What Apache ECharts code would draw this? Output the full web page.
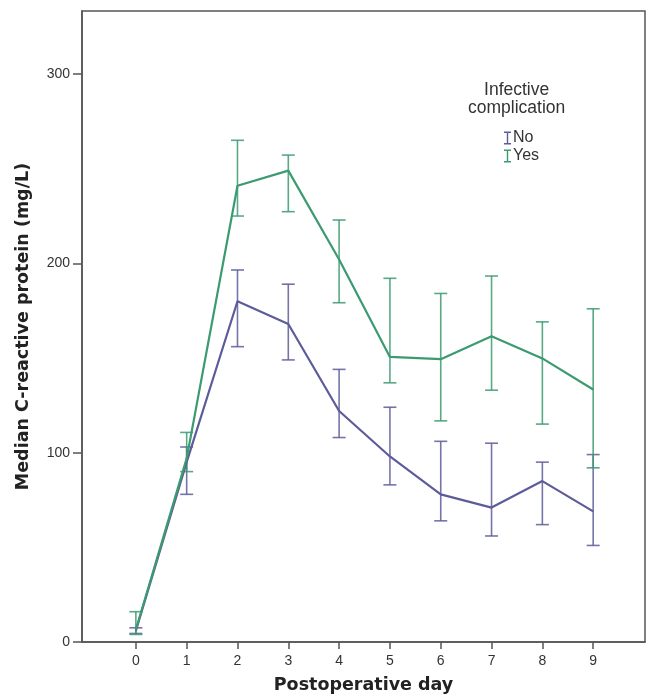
<!DOCTYPE html>
<html>
<head>
<meta charset="utf-8">
<script src="https://cdn.jsdelivr.net/npm/echarts@6/dist/echarts.min.js"></script>
<style>
html,body{margin:0;padding:0;background:#fff;}
#chart{width:646px;height:697px;}
</style>
</head>
<body>
<div id="chart"></div>
<script>
// Postoperative days
var days = [0, 1, 2, 3, 4, 5, 6, 7, 8, 9];
var xTickLabels = [0, 1, 2, 3, 4, 5, 6, 7, 8, 9];
var yTickLabels = [0, 100, 200, 300];

// Infective complication: No
var noMedian = [6, 95, 180, 168, 122, 98, 78, 71, 85, 69];
var noLow    = [4.5, 78, 156, 149, 108, 83, 64, 56, 62, 51];
var noHigh   = [7.5, 103, 196.5, 189, 144, 124, 106, 105, 95, 99];

// Infective complication: Yes
var yesMedian = [6.5, 97, 241, 249, 202, 150.6, 149.4, 161.5, 149.8, 133.4];
var yesLow    = [4, 90, 225, 227.3, 179.2, 136.9, 116.8, 133, 115.1, 92];
var yesHigh   = [16, 110.7, 265, 257.2, 222.9, 192.1, 184.1, 193.3, 169.1, 176];

var colNo = '#5d5c9a';
var colYes = '#3c9a70';

function pairs(xs, ys) { return xs.map(function (x, i) { return [x, ys[i]]; }); }
function bars(xs, lo, hi) { return xs.map(function (x, i) { return [x, lo[i], hi[i]]; }); }

function errRender(color) {
  return function (params, api) {
    var x = api.value(0);
    var lo = api.coord([x, api.value(1)]);
    var hi = api.coord([x, api.value(2)]);
    var hw = 6.5;
    var style = { stroke: color, lineWidth: 1.6, opacity: 0.85 };
    return {
      type: 'group',
      children: [
        { type: 'line', shape: { x1: hi[0], y1: hi[1], x2: lo[0], y2: lo[1] }, style: style },
        { type: 'line', shape: { x1: hi[0] - hw, y1: hi[1], x2: hi[0] + hw, y2: hi[1] }, style: style },
        { type: 'line', shape: { x1: lo[0] - hw, y1: lo[1], x2: lo[0] + hw, y2: lo[1] }, style: style }
      ]
    };
  };
}

var iconI = 'path://M0,0 L7,0 L7,1.4 L4.2,1.4 L4.2,11.6 L7,11.6 L7,13 L0,13 L0,11.6 L2.8,11.6 L2.8,1.4 L0,1.4 Z';

var chart = echarts.init(document.getElementById('chart'), null, { renderer: 'canvas' });
chart.setOption({
  backgroundColor: '#ffffff',
  animation: false,
  textStyle: { fontFamily: 'Liberation Sans, Arial, sans-serif' },
  grid: { left: 82, top: 11, right: 1, bottom: 55, show: true, borderColor: '#555', borderWidth: 1.5,
          containLabel: false, outerBoundsMode: 'none' },
  graphic: [{
    type: 'text', left: 468, top: 81,
    style: { text: 'Infective\ncomplication', align: 'center', fill: '#333', font: '17.5px "Liberation Sans", Arial, sans-serif', lineHeight: 18, textAlign: 'center' }
  }],
  legend: {
    orient: 'vertical', left: 499, top: 125, itemGap: 2, itemWidth: 7, itemHeight: 13,
    icon: iconI,
    textStyle: { color: '#333', fontSize: 16, fontFamily: 'Liberation Sans, Arial, sans-serif', padding: [0, 0, 0, -3] },
    data: ['No', 'Yes']
  },
  xAxis: {
    type: 'value', min: -1.06, max: 10.02,
    name: 'Postoperative day', nameLocation: 'middle', nameGap: 34,
    nameTextStyle: { fontFamily: 'DejaVu Sans', fontWeight: 'bold', fontSize: 17.5, color: '#222' },
    axisLine: { show: true, onZero: false, lineStyle: { color: '#555', width: 1.5 } },
    axisTick: { show: true, length: 7, customValues: xTickLabels, lineStyle: { color: '#555', width: 1.5 } },
    axisLabel: { customValues: xTickLabels, margin: 12, fontSize: 14, color: '#333' },
    splitLine: { show: false }
  },
  yAxis: {
    type: 'value', min: 0, max: 333.3,
    name: 'Median C-reactive protein (mg/L)', nameLocation: 'middle', nameGap: 50,
    nameTextStyle: { fontFamily: 'DejaVu Sans', fontWeight: 'bold', fontSize: 17.5, color: '#222' },
    axisLine: { show: true, onZero: false, lineStyle: { color: '#555', width: 1.5 } },
    axisTick: { show: true, length: 9, customValues: yTickLabels, lineStyle: { color: '#555', width: 1.5 } },
    axisLabel: { customValues: yTickLabels, margin: 12, fontSize: 14, color: '#333' },
    splitLine: { show: false }
  },
  series: [
    { name: 'No', type: 'line', data: pairs(days, noMedian), showSymbol: false, symbol: 'none',
      color: colNo, lineStyle: { color: colNo, width: 2.2 }, z: 3 },
    { name: 'Yes', type: 'line', data: pairs(days, yesMedian), showSymbol: false, symbol: 'none',
      color: colYes, lineStyle: { color: colYes, width: 2.2 }, z: 3 },
    { name: 'No', type: 'custom', data: bars(days, noLow, noHigh), renderItem: errRender(colNo),
      encode: { x: 0, y: [1, 2] }, color: colNo, z: 2 },
    { name: 'Yes', type: 'custom', data: bars(days, yesLow, yesHigh), renderItem: errRender(colYes),
      encode: { x: 0, y: [1, 2] }, color: colYes, z: 2 }
  ]
});
</script>
</body>
</html>
